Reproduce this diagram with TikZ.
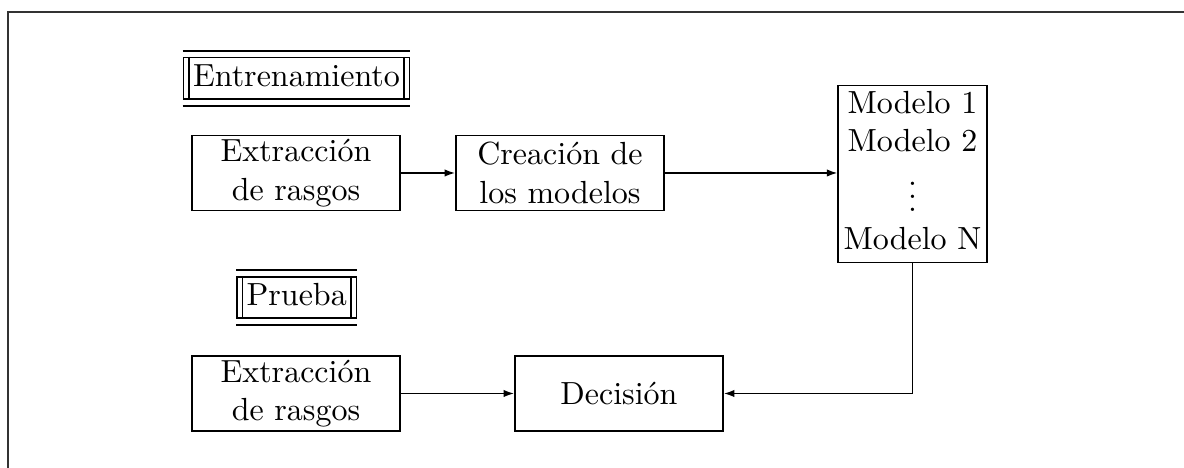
\documentclass[tikz,border=0pt]{standalone}
\usepackage{fontspec}
\usetikzlibrary{arrows.meta}
\begin{document}
\begin{tikzpicture}[x=0.3125pt, y=-0.3125pt,
  every node/.style={font=\fontsize{10pt}{12pt}\selectfont},
  procbox/.style={draw, line width=0.5pt, inner sep=0pt, minimum width=65pt, minimum height=23.5pt, text width=62pt, align=center},
  modbox/.style={draw, line width=0.5pt, inner sep=0pt, minimum width=46.4pt, minimum height=55.3pt},
  titlebox/.style={draw, line width=0.5pt, inner xsep=3pt, inner ysep=0.45pt, text height=8.5pt, text depth=3.5pt},
  dbl/.style={line width=0.5pt},
  arr/.style={line width=0.5pt, -{Latex[length=3.3pt,width=2.3pt]}},
  frame/.style={line width=0.9pt, draw=black!80}]
\useasboundingbox (0,0) rectangle (1184,468);
\draw[frame] (8,468) -- (8,12) -- (1184,12);

% title labels
\node[titlebox] (ent) at (296.5,78.3) {Entrenamiento};
\node[titlebox] (pru) at (296.7,297.5) {Prueba};
\foreach \n in {ent,pru}{
  \draw[dbl] ([xshift=1.9pt]\n.north west) -- ([xshift=1.9pt]\n.south west);
  \draw[dbl] ([xshift=-1.9pt]\n.north east) -- ([xshift=-1.9pt]\n.south east);
  \draw[dbl] ([yshift=1.9pt]\n.north west) -- ([yshift=1.9pt]\n.north east);
  \draw[dbl] ([yshift=-1.9pt]\n.south west) -- ([yshift=-1.9pt]\n.south east);
}

% process boxes
\node[procbox] (ext1) at (296,173) {Extracción\\de rasgos};
\node[procbox] (cre) at (560,173) {Creación de\\los modelos};
\node[modbox] (mod) at (912.5,174) {\begin{tabular}{@{}c@{}}Modelo 1\\Modelo 2\\$\vdots$\\Modelo N\end{tabular}};
\node[procbox] (ext2) at (296,393.5) {Extracción\\de rasgos};
\node[procbox] (dec) at (619,393.5) {Decisión};

% connectors
\draw[arr] (ext1) -- (cre);
\draw[arr] (cre.east) -- (cre.east -| mod.west);
\draw[arr] (mod.south) |- (dec.east);
\draw[arr] (ext2) -- (dec);
\end{tikzpicture}
\end{document}
